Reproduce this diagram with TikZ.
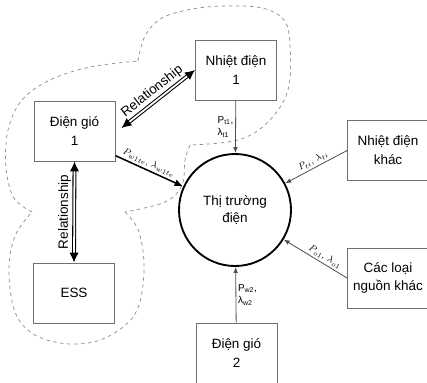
\documentclass[tikz,border=0pt]{standalone}
\usepackage{fontspec}
\setmainfont{Liberation Sans}
\usetikzlibrary{arrows.meta, positioning, calc}
\definecolor{boxgray}{HTML}{707070}
\definecolor{wiregray}{HTML}{505050}
\definecolor{cloudgray}{HTML}{8C8C8C}

\begin{document}
\begin{tikzpicture}[
  x=0.03cm, y=-0.03cm,
  unitbox/.style={draw=boxgray, line width=0.8pt, minimum width=2.43cm, minimum height=1.8cm, align=center, font=\fontsize{11.5}{16}\selectfont},
  market/.style={circle, draw=black, line width=1.6pt, minimum size=3.36cm, align=center, font=\fontsize{11.5}{14}\selectfont},
  flow/.style={-{Latex[length=1.8mm,width=1.4mm]}, draw=wiregray, line width=0.7pt},
  bigflow/.style={-{Latex[length=2.6mm,width=2.2mm]}, draw=black, line width=1.3pt},
  relation/.style={{Latex[length=3mm,width=2.8mm]}-{Latex[length=3mm,width=2.8mm]}, double, double distance=1.5pt, line width=0.9pt},
  rellabel/.style={font=\fontsize{11.5}{13}\selectfont, inner sep=1pt},
  flowlabel/.style={font=\fontsize{8.5}{10.5}\selectfont, inner sep=1.5pt},
  cloudline/.style={draw=cloudgray, dashed, line width=0.6pt}
]
  \useasboundingbox (0,0) rectangle (427,382);

  % dashed group around the coupled units
  \draw[cloudline] plot[smooth, tension=0.6] coordinates {(138,61) (145,36) (162,18) (192,9) (226,6) (262,8) (284,20) (290,45) (288,90) (268,122) (238,140) (190,145)};
  \draw[cloudline] plot[smooth, tension=0.6] coordinates {(190,145) (185,160) (182,185) (165,202) (125,212)};
  \draw[cloudline] plot[smooth, tension=0.6] coordinates {(125,212) (139,232) (144,272) (135,314) (105,338) (70,344) (35,335) (15,312) (9,270) (15,236) (32,212)};
  \draw[cloudline] plot[smooth, tension=0.6] coordinates {(32,212) (14,198) (6,168) (8,130) (22,100) (50,80) (90,67) (138,61)};

  % units and market
  \node[unitbox] (dg1) at (74.5,131) {Điện gió\\1};
  \node[unitbox] (nd1) at (236,70) {Nhiệt điện\\1};
  \node[unitbox] (ess) at (74,293) {ESS};
  \node[unitbox] (ndk) at (388,150.5) {Nhiệt điện\\khác};
  \node[unitbox] (cln) at (388,278) {Các loại\\nguồn khác};
  \node[unitbox] (dg2) at (236.5,353) {Điện gió\\2};
  \node[market] (mkt) at (235,210) {Thị trường\\điện};

  % relationships
  \draw[relation] ($(dg1.east)+(6,-3)$) -- (nd1.west) node[midway, sloped, above=1.5pt, rellabel] {Relationship};
  \draw[relation] (ess.north) -- (dg1.south) node[midway, sloped, above=1.5pt, rellabel] {Relationship};

  % bids into the market
  \draw[bigflow] (dg1.-31) -- (mkt) node[pos=0.45, sloped, above, flowlabel] {$P_{w1te},\,\lambda_{w1te}$};
  \draw[flow] (nd1) -- (mkt) node[midway, left, flowlabel, align=left] {P\textsubscript{t1},\\λ\textsubscript{t1}};
  \draw[flow] (ndk.west) -- (mkt) node[midway, sloped, above, flowlabel] {$P_{ti},\,\lambda_{ti}$};
  \draw[flow] (cln.west) -- (mkt) node[pos=0.4, sloped, above, flowlabel] {$P_{o1},\,\lambda_{o1}$};
  \draw[flow] (dg2) -- (mkt) node[midway, right, flowlabel, align=left] {P\textsubscript{w2},\\λ\textsubscript{w2}};
\end{tikzpicture}
\end{document}
